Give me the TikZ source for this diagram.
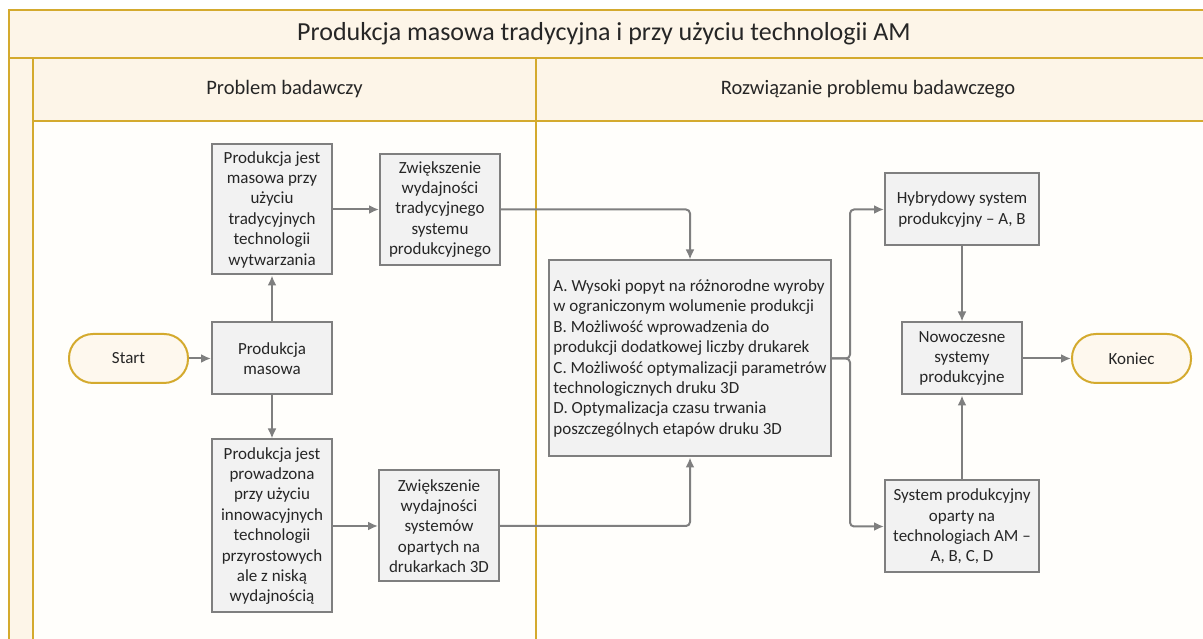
\documentclass[tikz,border=0pt]{standalone}
\usepackage{fontspec}
\setmainfont{Carlito}
\usetikzlibrary{arrows.meta, positioning}
\definecolor{mgold}{HTML}{D4AA2E}
\definecolor{mcream}{HTML}{FDF5E8}
\definecolor{mlane}{HTML}{FFFEFB}
\definecolor{mbox}{HTML}{F2F2F2}
\definecolor{mgray}{HTML}{7F7F7F}
\definecolor{mtext}{HTML}{262626}
\definecolor{mstart}{HTML}{FEF8EE}
\newcommand{\boxfont}{\fontsize{17}{20.4}\selectfont}
\tikzstyle{terminal} = [rectangle, rounded corners=24pt, minimum width=119pt, minimum height=49pt, text=mtext, fill=mstart, draw=mgold, line width=2pt, font=\boxfont]
\tikzstyle{process} = [rectangle, minimum width=120pt, minimum height=72pt, inner sep=3pt, align=center, text=mtext, fill=mbox, draw=mgray, line width=2pt, font=\boxfont]
\tikzstyle{lane} = [line width=2.2pt, draw=mgold]
\tikzstyle{link} = [line width=2pt, draw=mgray, -{Latex[length=10pt, width=9pt]}, rounded corners=4pt]

\begin{document}
\begin{tikzpicture}[x=1pt, y=1pt]
  \useasboundingbox (0,0) rectangle (1203,639);
  \clip (0,0) rectangle (1203,639);
  \fill[white] (0,0) rectangle (1203,639);
  % swimlane frame
  \fill[mcream] (9,581) rectangle (1210,629);
  \fill[mcream] (9,-5) rectangle (33,581);
  \fill[mcream] (33,518) rectangle (1210,581);
  \fill[mlane] (33,-5) rectangle (1210,518);
  \draw[lane] (1210,629) -- (9,629) -- (9,-5);
  \draw[lane] (9,581) -- (1210,581);
  \draw[lane] (33,581) -- (33,-5);
  \draw[lane] (33,518) -- (1210,518);
  \draw[lane] (536,581) -- (536,-5);
  \node (title) at (604,605) [text=mtext, font=\fontsize{26}{31}\selectfont] {Produkcja masowa tradycyjna i przy użyciu technologii AM};
  \node (lane1) at (284.5,550) [text=mtext, font=\fontsize{20.5}{25}\selectfont] {Problem badawczy};
  \node (lane2) at (868,550) [text=mtext, font=\fontsize{20.5}{25}\selectfont] {Rozwiązanie problemu badawczego};
  % problem
  \node (start) [terminal] at (128.5,280.5) {Start};
  \node (masowa) [process, right=22pt of start] {Produkcja\\masowa};
  \node (tradycyjna) [process, above=46pt of masowa, minimum height=130pt] {Produkcja jest\\masowa przy\\użyciu\\tradycyjnych\\technologii\\wytwarzania};
  \node (przyrostowa) [process, below=43pt of masowa, minimum height=173pt] {Produkcja jest\\prowadzona\\przy użyciu\\innowacyjnych\\technologii\\przyrostowych\\ale z niską\\wydajnością};
  \node (wyd1) [process, right=46pt of tradycyjna, minimum height=111pt] {Zwiększenie\\wydajności\\tradycyjnego\\systemu\\produkcyjnego};
  \node (wyd2) [process, right=45pt of przyrostowa, minimum height=111pt] {Zwiększenie\\wydajności\\systemów\\opartych na\\drukarkach 3D};
  \draw [link] (start) -- (masowa);
  \draw [link] (masowa) -- (tradycyjna);
  \draw [link] (masowa) -- (przyrostowa);
  \draw [link] (tradycyjna) -- (wyd1);
  \draw [link] (przyrostowa) -- (wyd2);
  % rozwiazanie
  \node (czynniki) [process, right=215pt of masowa, minimum width=282pt, minimum height=196pt, align=left] {A. Wysoki popyt na różnorodne wyroby\\w ograniczonym wolumenie produkcji\\B. Możliwość wprowadzenia do\\produkcji dodatkowej liczby drukarek\\C. Możliwość optymalizacji parametrów\\technologicznych druku 3D\\D. Optymalizacja czasu trwania\\poszczególnych etapów druku 3D};
  \node (nowoczesne) [process, right=69pt of czynniki] {Nowoczesne\\systemy\\produkcyjne};
  \node (hybryda) [process, above=75pt of nowoczesne, minimum width=154pt] {Hybrydowy system\\produkcyjny -- A, B};
  \node (systemam) [process, below=84pt of nowoczesne, minimum width=154pt, minimum height=92pt] {System produkcyjny\\oparty na\\technologiach AM --\\A, B, C, D};
  \node (koniec) [terminal, right=48pt of nowoczesne] {Koniec};
  \coordinate [right=18pt of czynniki.east] (rozwidlenie);
  \draw [link] (wyd1) -| (czynniki.north);
  \draw [link] (wyd2) -| (czynniki.south);
  \draw [link] (czynniki.east) -- (rozwidlenie) |- (hybryda);
  \draw [link] (czynniki.east) -- (rozwidlenie) |- (systemam);
  \draw [link] (hybryda) -- (nowoczesne);
  \draw [link] (systemam) -- (nowoczesne);
  \draw [link] (nowoczesne) -- (koniec);
\end{tikzpicture}
\end{document}
